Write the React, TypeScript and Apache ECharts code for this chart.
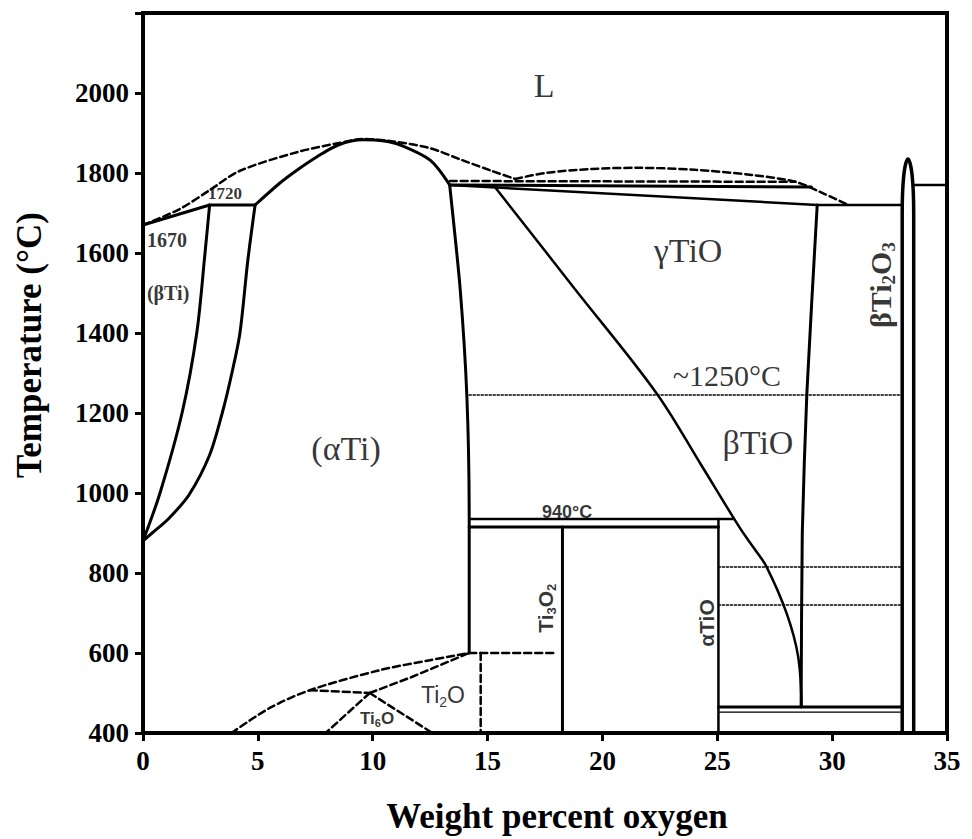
import React, { useEffect, useRef } from "react";
import * as echarts from "echarts";

// ---- axis ranges / ticks ----
const xMin = 0;
const xMax = 35;
const xStep = 5;
const yMin = 400;
const yMax = 2200;
const yStep = 200;
const hiddenYLabels = [2200];

// ---- phase boundaries (wt% O, °C) ----
const betaTiSolvus = [[0, 880], [0.74, 1000], [1.7, 1200], [2.34, 1400], [2.7, 1600], [2.9, 1720]];
const alphaTiSolvus = [[0, 880], [0.4, 900], [1.1, 935], [2.0, 995], [2.9, 1095], [3.45, 1200], [3.87, 1300], [4.22, 1400], [4.56, 1580], [4.88, 1720]];
const peritectic1720 = [[0, 1670], [2.9, 1720], [4.88, 1720]];
const alphaLiquidus = [[4.88, 1720], [5.96, 1775], [6.7, 1807], [7.56, 1840], [8.5, 1870], [9.57, 1883], [10.5, 1880], [11.2, 1870], [12.5, 1832], [13.35, 1770]];
const alphaTiRight = [[13.35, 1770], [13.8, 1515], [14.1, 1240], [14.2, 935], [14.2, 600]];
const line1770 = [[13.35, 1770], [29.1, 1765]];
const gammaTop = [[13.35, 1770], [29.35, 1720], [33.05, 1720]];
const betaTiOLeft = [[15.32, 1765], [18.8, 1510], [22.36, 1249], [24.3, 1070], [25.99, 912], [26.6, 862], [27.14, 816], [28.02, 699], [28.52, 591], [28.67, 466]];
const gammaRight = [[29.35, 1720], [28.9, 1250], [28.7, 900], [28.65, 465]];
const line940 = [[14.2, 935], [25.7, 935]];
const line920 = [[14.2, 915], [25.05, 915]];
const ti3o2Line = [[18.26, 915], [18.26, 400]];
const alphaTiOLine = [[25.05, 935], [25.05, 400]];
const line465 = [[25.05, 465], [33.05, 465]];
const line455 = [[25.1, 452], [33.0, 452]];
const ti2o3Loop = [[33.05, 400], [33.05, 1700], [33.12, 1795], [33.3, 1835], [33.48, 1795], [33.55, 1700], [33.55, 400]];
const ti2o3Right = [[33.55, 1770], [35, 1770]];

// dashed boundaries
const dome1 = [[0, 1670], [1.6, 1710], [2.9, 1757], [4.2, 1805], [6.7, 1852], [8.7, 1877], [9.6, 1885], [11.0, 1878], [12.5, 1862], [13.9, 1832], [15.2, 1805], [16.2, 1785]];
const dashed1780 = [[13.35, 1780], [28.4, 1778]];
const dome2 = [[16.2, 1785], [17.5, 1800], [19.5, 1810], [21.5, 1813], [24, 1808], [26.5, 1795], [28.4, 1778], [29.5, 1752], [30.7, 1720]];
const dashed600 = [[14.2, 600], [18.0, 600]];
const dashedVert = [[14.7, 600], [14.7, 400]];
const ti2oUpper = [[3.85, 400], [5.5, 462], [7.26, 507], [10.3, 557], [12.5, 582], [14.2, 600]];
const ti2oFlat = [[7.26, 507], [9.87, 500]];
const ti2oInner = [[9.87, 500], [11.7, 540], [14.2, 600]];
const ti6oLeft = [[9.87, 500], [7.95, 400]];
const ti6oRight = [[9.87, 500], [12.6, 400]];

// dotted isotherms
const dotted1250 = [[14.2, 1245], [33.05, 1245]];
const dotted815 = [[25.05, 815], [33.05, 815]];
const dotted720 = [[25.05, 720], [33.05, 720]];

// ---- region labels ----
const labelTexts = ["L", "(αTi)", "γTiO", "~1250°C", "βTiO", "βTi{s|2}O{s|3}", "1670", "1720", "(βTi)", "940°C", "Ti{s|3}O{s|2}", "αTiO", "Ti{s|2}O", "Ti{s|6}O"];
const labelX = [17.46, 8.84, 23.73, 25.42, 26.77, 32.1, 0.17, 2.83, 0.17, 18.46, 17.5, 24.55, 13.06, 10.19];
const labelY = [2020, 1112, 1607, 1295, 1127, 1520, 1632, 1750, 1500, 952, 712, 675, 495, 437];

const SERIF = "'Liberation Serif', 'Times New Roman', serif";
const SANS = "'Liberation Sans', Arial, sans-serif";

const labelStyles = [
  { font: SERIF, size: 34, weight: "normal", rotate: 0, align: "center" },
  { font: SERIF, size: 34, weight: "normal", rotate: 0, align: "center" },
  { font: SERIF, size: 34, weight: "normal", rotate: 0, align: "center" },
  { font: SERIF, size: 30, weight: "normal", rotate: 0, align: "center" },
  { font: SERIF, size: 34, weight: "normal", rotate: 0, align: "center" },
  { font: SERIF, size: 30, weight: "bold", rotate: 90, align: "center" },
  { font: SERIF, size: 20, weight: "bold", rotate: 0, align: "left" },
  { font: SERIF, size: 17, weight: "bold", rotate: 0, align: "left" },
  { font: SERIF, size: 20, weight: "bold", rotate: 0, align: "left" },
  { font: SANS, size: 18, weight: "bold", rotate: 0, align: "center" },
  { font: SANS, size: 21, weight: "bold", rotate: 90, align: "center" },
  { font: SANS, size: 21, weight: "bold", rotate: 90, align: "center" },
  { font: SANS, size: 23, weight: "normal", rotate: 0, align: "center" },
  { font: SANS, size: 17, weight: "bold", rotate: 0, align: "center" },
];

type Kind = "solid" | "thin" | "dashed" | "dotted" | "thick" | "hair";

const lineDefs: { data: number[][]; kind: Kind; smooth?: number }[] = [
  { data: betaTiSolvus, kind: "solid", smooth: 0.3 },
  { data: alphaTiSolvus, kind: "solid", smooth: 0.3 },
  { data: peritectic1720, kind: "solid" },
  { data: alphaLiquidus, kind: "solid", smooth: 0.3 },
  { data: alphaTiRight, kind: "solid", smooth: 0.2 },
  { data: line1770, kind: "solid" },
  { data: gammaTop, kind: "thin" },
  { data: betaTiOLeft, kind: "thin", smooth: 0.35 },
  { data: gammaRight, kind: "solid", smooth: 0.2 },
  { data: line940, kind: "thin" },
  { data: line920, kind: "solid" },
  { data: ti3o2Line, kind: "solid" },
  { data: alphaTiOLine, kind: "thin" },
  { data: line465, kind: "solid" },
  { data: line455, kind: "hair" },
  { data: ti2o3Loop, kind: "thick", smooth: 0.4 },
  { data: ti2o3Right, kind: "thin" },
  { data: dome1, kind: "dashed", smooth: 0.3 },
  { data: dashed1780, kind: "dashed" },
  { data: dome2, kind: "dashed", smooth: 0.3 },
  { data: dashed600, kind: "dashed" },
  { data: dashedVert, kind: "dashed" },
  { data: ti2oUpper, kind: "dashed", smooth: 0.3 },
  { data: ti2oFlat, kind: "dashed" },
  { data: ti2oInner, kind: "dashed" },
  { data: ti6oLeft, kind: "dashed" },
  { data: ti6oRight, kind: "dashed" },
  { data: dotted1250, kind: "dotted" },
  { data: dotted815, kind: "dotted" },
  { data: dotted720, kind: "dotted" },
];

const kindStyle: Record<Kind, any> = {
  solid: { width: 3, type: "solid" },
  thin: { width: 2.5, type: "solid" },
  thick: { width: 3.5, type: "solid" },
  hair: { width: 1.2, type: "solid" },
  dashed: { width: 2.5, type: [7, 4] },
  dotted: { width: 1.6, type: [2, 2] },
};

export default function App() {
  const ref = useRef<HTMLDivElement>(null);

  useEffect(() => {
    if (!ref.current) return;
    const chart = echarts.init(ref.current, undefined, { renderer: "svg" });

    const lineSeries = lineDefs.map((d) => ({
      type: "line",
      data: d.data,
      showSymbol: false,
      symbol: "none",
      silent: true,
      smooth: d.smooth ?? false,
      lineStyle: { color: "#000", cap: "round", join: "round", ...kindStyle[d.kind] },
      z: 3,
    }));

    const labelData = labelTexts.map((t, i) => {
      const s = labelStyles[i];
      return {
        value: [labelX[i], labelY[i]],
        label: {
          show: true,
          position: "inside",
          formatter: t,
          color: "#000",
          fontFamily: s.font,
          fontSize: s.size,
          fontWeight: s.weight,
          rotate: s.rotate,
          align: s.align,
          verticalAlign: "middle",
          rich: {
            s: {
              fontFamily: s.font,
              fontWeight: s.weight,
              fontSize: Math.round(s.size * 0.62),
              padding: [Math.round(s.size * 0.55), 0, 0, 0],
              color: "#000",
            },
          },
        },
      };
    });

    chart.setOption({
      animation: false,
      backgroundColor: "#fff",
      grid: {
        left: 143,
        right: 25,
        top: 13,
        bottom: 106,
        show: true,
        borderColor: "#000",
        borderWidth: 4,
      },
      xAxis: {
        type: "value",
        min: xMin,
        max: xMax,
        interval: xStep,
        name: "Weight percent oxygen",
        nameLocation: "middle",
        nameGap: 66,
        nameTextStyle: {
          fontFamily: SERIF,
          fontWeight: "bold",
          fontSize: 35,
          color: "#000",
          padding: [0, 0, 0, 24],
        },
        axisLine: { show: true, lineStyle: { color: "#000", width: 4 } },
        axisTick: { show: true, inside: false, length: 8, lineStyle: { color: "#000", width: 3 } },
        axisLabel: {
          margin: 14,
          fontFamily: SERIF,
          fontWeight: "bold",
          fontSize: 27,
          color: "#000",
        },
        splitLine: { show: false },
      },
      yAxis: {
        type: "value",
        min: yMin,
        max: yMax,
        interval: yStep,
        name: "Temperature (°C)",
        nameLocation: "middle",
        nameGap: 96,
        nameRotate: 90,
        nameTextStyle: {
          fontFamily: SERIF,
          fontWeight: "bold",
          fontSize: 35,
          color: "#000",
          padding: [0, 0, 0, 56],
        },
        axisLine: { show: true, lineStyle: { color: "#000", width: 4 } },
        axisTick: { show: true, inside: false, length: 8, lineStyle: { color: "#000", width: 3 } },
        axisLabel: {
          margin: 14,
          fontFamily: SERIF,
          fontWeight: "bold",
          fontSize: 27,
          color: "#000",
          formatter: (v: number) => (hiddenYLabels.includes(v) ? "" : String(v)),
        },
        splitLine: { show: false },
      },
      series: [
        ...lineSeries,
        {
          type: "scatter",
          symbolSize: 0,
          silent: true,
          data: labelData,
          z: 5,
        },
      ],
    });

    return () => chart.dispose();
  }, []);

  return (
    <div
      ref={ref}
      style={{ position: "fixed", left: 0, top: 0, width: "972px", height: "839px", background: "#fff" }}
    />
  );
}
